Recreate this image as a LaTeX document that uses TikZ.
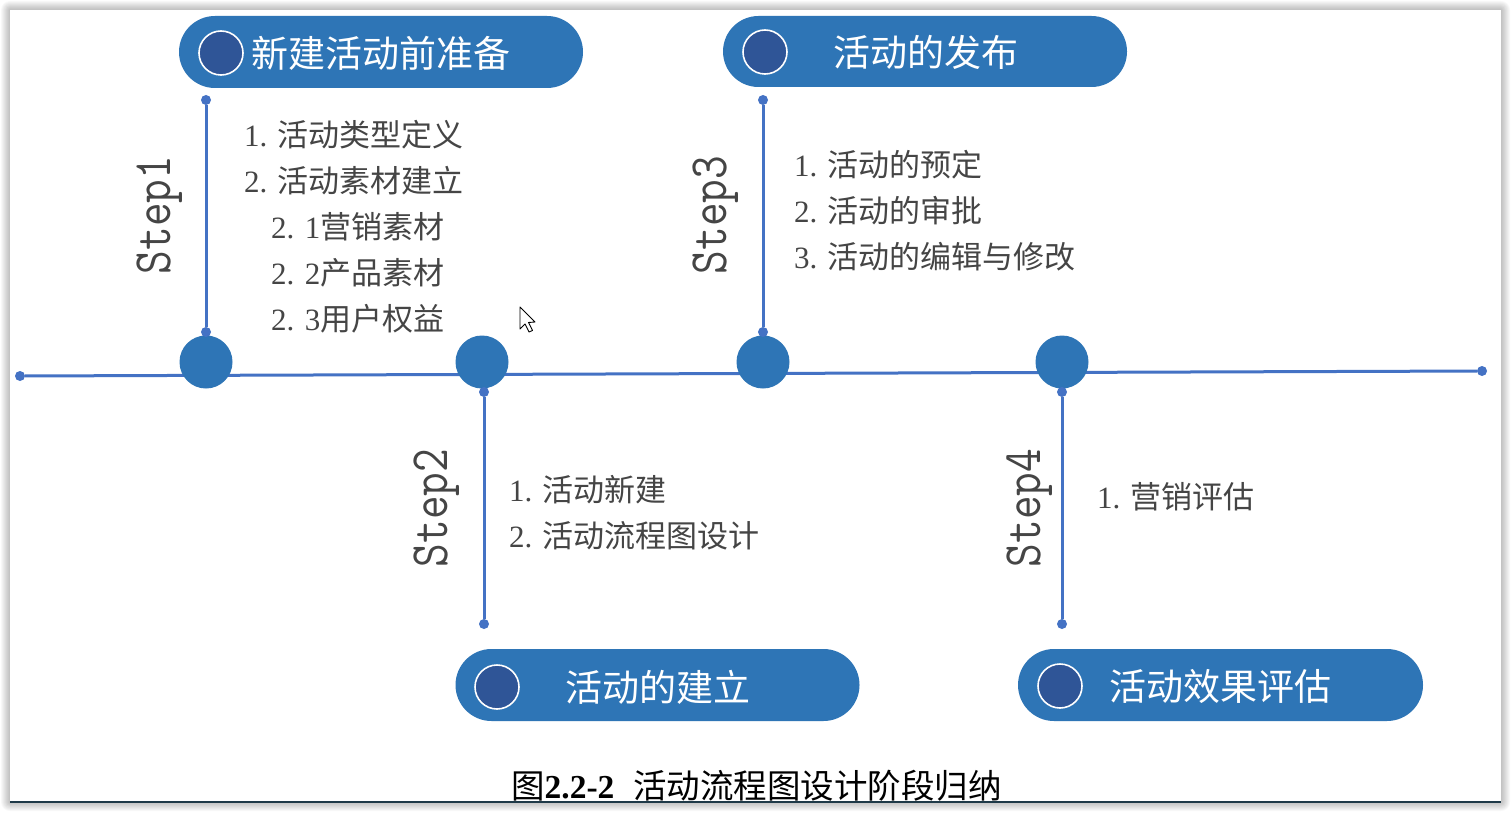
\documentclass[tikz,border=0pt]{standalone}
\usepackage{fontspec}
\setmainfont{Liberation Serif}
\newfontfamily\cjk{Noto Sans CJK SC}
\usetikzlibrary{shapes.misc}
\definecolor{pillblue}{HTML}{2E75B6}
\definecolor{darkring}{HTML}{2F5597}
\definecolor{lineblue}{HTML}{4472C4}
\definecolor{itemgray}{HTML}{454545}
\definecolor{edgeline}{HTML}{1F3A48}
\tikzset{
  pill/.style={rounded rectangle, fill=pillblue, draw=none, minimum width=404pt, minimum height=72pt, inner sep=0pt},
  ring/.style={circle, fill=darkring, draw=white, line width=1.6pt, minimum size=44pt, inner sep=0pt},
  pilltext/.style={anchor=west, text=white, font=\cjk\fontsize{37}{40}\selectfont, inner sep=0pt},
  bigdot/.style={circle, fill=pillblue, minimum size=53pt, inner sep=0pt},
  smalldot/.style={circle, fill=lineblue, minimum size=10pt, inner sep=0pt},
  axis/.style={draw=lineblue, line width=3pt},
  itemtext/.style={anchor=west, text=itemgray, font=\fontsize{31}{46}\selectfont, inner sep=0pt, align=left},
  steplabel/.style={rotate=90, text=itemgray, font=\ttfamily\fontsize{54}{54}\selectfont, inner sep=0pt},
}
\newcommand{\zh}[1]{{\cjk #1}}
\newcommand{\steptext}[1]{\scalebox{0.85}[1]{#1}}
\begin{document}
\begin{tikzpicture}[x=1pt, y=-1pt]
\useasboundingbox (0,0) rectangle (1511,813);
% page shadow and sheet
\fill[white] (0,0) rectangle (1511,813);
\foreach \i in {1,...,9}
  \fill[black, opacity=0.028, rounded corners=\i pt] (10-\i,10-\i) rectangle (1501+\i,802+\i);
\fill[white] (10,10) rectangle (1501,802);
\draw[edgeline, line width=1.5pt] (10,802) -- (1501,802);

% timeline axis with its end points
\node[smalldot] (L) at (20,376) {};
\node[smalldot] (R) at (1482,371) {};
\draw[axis] (L) -- (R);

% stage markers on the axis
\node[bigdot] (c1) at (206,362) {};
\node[bigdot] (c2) at (482,362) {};
\node[bigdot] (c3) at (763,362) {};
\node[bigdot] (c4) at (1062,362) {};

% vertical stems
\node[smalldot] (s1a) at (206,100) {};
\node[smalldot] (s1b) at (206,332) {};
\draw[axis] (s1a) -- (s1b);
\node[smalldot] (s3a) at (763,100) {};
\node[smalldot] (s3b) at (763,332) {};
\draw[axis] (s3a) -- (s3b);
\node[smalldot] (s2a) at (484,392) {};
\node[smalldot] (s2b) at (484,624) {};
\draw[axis] (s2a) -- (s2b);
\node[smalldot] (s4a) at (1062,392) {};
\node[smalldot] (s4b) at (1062,624) {};
\draw[axis] (s4a) -- (s4b);

% stage titles
\node[pill] (p1) at (381,52) {};
\node[ring] (p1c) at (221,53) {};
\node[pilltext] (p1t) at (251,53) {新建活动前准备};

\node[pill, minimum height=71pt] (p3) at (925,51.5) {};
\node[ring] (p3c) at (765,52) {};
\node[pilltext] (p3t) at (833,52) {活动的发布};

\node[pill] (p2) at (657.5,685) {};
\node[ring] (p2c) at (497,687) {};
\node[pilltext] (p2t) at (565,687) {活动的建立};

\node[pill, minimum width=405pt] (p4) at (1220.5,685) {};
\node[ring] (p4c) at (1060,686) {};
\node[pilltext] (p4t) at (1109,686) {活动效果评估};

% step labels
\node[steplabel] (st1) at (160,215) {\steptext{Step1}};
\node[steplabel] (st3) at (716,215) {\steptext{Step3}};
\node[steplabel] (st2) at (437,508) {\steptext{Step2}};
\node[steplabel] (st4) at (1030,508) {\steptext{Step4}};

% step contents
\node[itemtext] (i11) at (244,135) {1. \zh{活动类型定义}};
\node[itemtext] (i12) at (244,181) {2. \zh{活动素材建立}};
\node[itemtext] (i13) at (271,227) {2. 1\zh{营销素材}};
\node[itemtext] (i14) at (271,273) {2. 2\zh{产品素材}};
\node[itemtext] (i15) at (271,319) {2. 3\zh{用户权益}};

\node[itemtext] (i31) at (794,165) {1. \zh{活动的预定}};
\node[itemtext] (i32) at (794,211) {2. \zh{活动的审批}};
\node[itemtext] (i33) at (794,257) {3. \zh{活动的编辑与修改}};

\node[itemtext] (i21) at (509,490) {1. \zh{活动新建}};
\node[itemtext] (i22) at (509,536) {2. \zh{活动流程图设计}};

\node[itemtext] (i41) at (1097,497) {1. \zh{营销评估}};

% pointer
\filldraw[fill=white, draw=black, line width=0.9pt, line join=round]
  (520,307) -- (520,329) -- (525,324) -- (529,332) -- (532.5,330.5) -- (528.5,322.5) -- (535,322) -- cycle;

% caption
\node[anchor=west, inner sep=0pt, text=black, font=\fontsize{33.5}{36}\selectfont] (cap) at (511,786)
  {\zh{图}\textbf{2.2-2}\hspace{19pt}\zh{活动流程图设计阶段归纳}};
\end{tikzpicture}
\end{document}
